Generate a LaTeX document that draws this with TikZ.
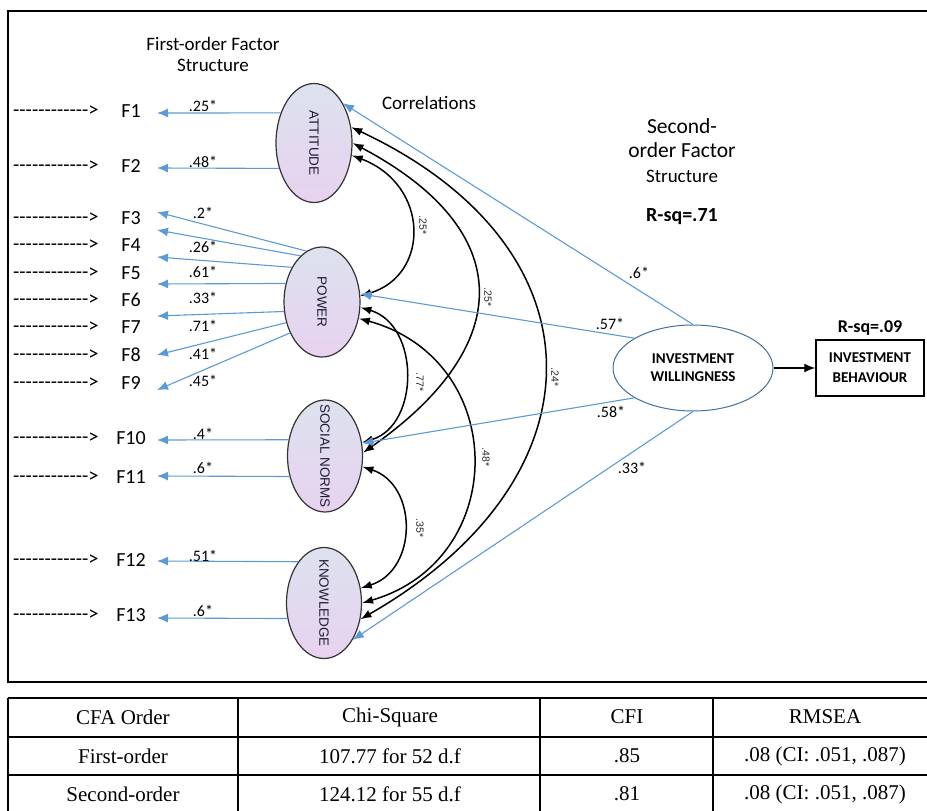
\documentclass[tikz,border=0pt]{standalone}
\usepackage{fontspec}
\setmainfont{Carlito}
\newfontfamily\arialfont{Liberation Sans}
\newfontfamily\timesfont{Liberation Serif}
\usetikzlibrary{shapes.geometric,arrows.meta}

\definecolor{loadblue}{HTML}{5B9BD5}
\definecolor{lvtop}{HTML}{DCE2EE}
\definecolor{lvbot}{HTML}{E8D2EF}
\definecolor{lvink}{HTML}{1E1C36}
\definecolor{iwline}{HTML}{41719C}
\newcommand{\fsz}[2]{\fontsize{#1}{#2}\selectfont}
\newcommand{\dashrow}{-{}-{}-{}-{}-{}-{}-{}-{}-{}-{}-{}-{}>}

\begin{document}
\begin{tikzpicture}[x=1pt,y=-1pt,
  latent/.style={ellipse,draw=black!80,line width=1.2pt,top color=lvtop,bottom color=lvbot,inner sep=0pt},
  lvtext/.style={rotate=-90,font=\arialfont\fsz{13.5}{15},text=lvink},
  dashtxt/.style={anchor=west,font=\fsz{20.5}{24},inner sep=0pt},
  ftxt/.style={font=\fsz{20}{24},inner sep=0pt},
  loadlab/.style={font=\fsz{16}{18},inner sep=0pt},
  load/.style={draw=loadblue,line width=1.1pt,-{Latex[length=11pt,width=9pt]}},
  corr/.style={line width=1.5pt,{Latex[length=11pt,width=8pt]}-{Latex[length=11pt,width=8pt]}},
  arclab/.style={rotate=-90,font=\arialfont\fsz{10.5}{12},text=black!85,inner sep=0pt},
  head/.style={font=\fsz{19}{22},inner sep=0pt},
  rsq/.style={font=\bfseries\fsz{20}{24},inner sep=0pt},
  tabline/.style={line width=1.6pt},
  tabtxt/.style={font=\timesfont\fsz{21}{24},inner sep=0pt}]
\useasboundingbox (0,0) rectangle (927,811);
\clip (0,0) rectangle (927,811);

% frame round the model
\draw [line width=1.6pt] (8,11) rectangle (960,682);

\node [head] (h1a) at (213,44) {First-order Factor};
\node [head] (h1b) at (213,65) {Structure};
\node [head] (corrl) at (429,103) {Correlations};
\node [head,font=\fsz{21.5}{24}] (h2a) at (682,126) {Second-};
\node [head,font=\fsz{21.5}{24}] (h2b) at (682,150) {order Factor};
\node [head] (h2c) at (682,176) {Structure};
\node [rsq] (rsq1) at (682,217) {R-sq=.71};
\node [rsq,font=\bfseries\fsz{18}{22}] (rsq2) at (870,328) {R-sq=.09};

% first-order factors
\node [latent,minimum width=76pt,minimum height=119pt] (att) at (314,143) {};
\node [latent,minimum width=76pt,minimum height=110pt] (pow) at (322,302) {};
\node [latent,minimum width=75pt,minimum height=112pt] (sn) at (325,456) {};
\node [latent,minimum width=75pt,minimum height=111pt] (kn) at (324,603) {};
\node [lvtext] (att-t) at (att) {ATTITUDE};
\node [lvtext] (pow-t) at (pow) {POWER};
\node [lvtext] (sn-t) at (sn) {SOCIAL NORMS};
\node [lvtext] (kn-t) at (kn) {KNOWLEDGE};

% items
\foreach \i/\fy/\ty in {1/111/113,2/166/168,3/218/212,4/245/230,5/273/257,6/300/284,7/327/316,8/355/355,9/383/390,10/438/440,11/477/476,12/560/561,13/615/618}{
  \node [dashtxt] (d\i) at (13,\fy) {\dashrow};
  \node [ftxt] (f\i) at (131,\fy) {F\i};
  \coordinate (t\i) at (157,\ty);
}

% loadings
\foreach \src/\i/\lab/\ly in {att.138/1/.25*/106,att.216/2/.48*/162,pow.107/3/.2*/213,pow.115/4/.26*/247,pow.131/5/.61*/272,pow.153/6/.33*/298,pow.194/7/.71*/326,pow.210/8/.41*/354,pow.224/9/.45*/381,sn.156/10/.4*/434,sn.210/11/.6*/468,kn.122/12/.51*/556,kn.203/13/.6*/611}{
  \draw [load] (\src) -- (t\i);
  \node [loadlab] (l\i) at (203,\ly) {\lab};
}

% correlations
\draw [corr] (att.-18) .. controls (430,185) and (430,275) .. (pow.9);
\draw [corr] (att.0) .. controls (517,230) and (517,345) .. (sn.5);
\draw [corr] (att.23) .. controls (607,247) and (607,478) .. (kn.-24);
\draw [corr] (pow.-8) .. controls (420,325) and (420,425) .. (sn.20);
\draw [corr] (pow.-24) .. controls (510,360) and (510,560) .. (kn.0);
\draw [corr] (sn.-16) .. controls (418,485) and (418,570) .. (kn.22);
\node [arclab] (r1) at (423,225) {.25*};
\node [arclab] (r2) at (488,297) {.25*};
\node [arclab] (r3) at (555,377) {.24*};
\node [arclab] (r4) at (420,382) {.77*};
\node [arclab] (r5) at (486,457) {.48*};
\node [arclab] (r6) at (420,528) {.35*};

% second-order factor
\node [ellipse,draw=iwline,line width=1pt,fill=white,minimum width=160pt,minimum height=86pt,align=center,font=\bfseries\fsz{15}{18}] (iw) at (693,368) {INVESTMENT\\WILLINGNESS};
\node [draw,line width=1.5pt,minimum width=108pt,minimum height=56pt,align=center,font=\bfseries\fsz{15}{20}] (ib) at (870,368) {INVESTMENT\\BEHAVIOUR};
\draw [line width=1.2pt,-{Latex[length=11pt,width=9pt]}] (iw.east) -- (ib.west);

\draw [load] (iw.north) -- (att.54); \node [loadlab] (s1) at (639,273) {.6*};
\draw [load] (iw.153) -- (pow.12); \node [loadlab] (s2) at (610,324) {.57*};
\draw [load] (iw.207) -- (sn.19); \node [loadlab] (s3) at (611,412) {.58*};
\draw [load] (iw.south) -- (kn.308); \node [loadlab] (s4) at (632,468) {.33*};

% fit table
\draw [tabline] (8,698) -- (960,698);
\draw [tabline] (8,737) -- (960,737);
\draw [tabline] (8,775) -- (960,775);
\draw [tabline] (8,698) -- (8,830);
\draw [tabline] (238,698) -- (238,830);
\draw [tabline] (540,698) -- (540,830);
\draw [tabline] (713,698) -- (713,830);
\node [tabtxt] (c11) at (123,717) {CFA Order};
\node [tabtxt] (c12) at (390,717) {Chi-Square};
\node [tabtxt] (c13) at (627,717) {CFI};
\node [tabtxt] (c14) at (825,717) {RMSEA};
\node [tabtxt] (c21) at (123,756) {First-order};
\node [tabtxt] (c22) at (390,756) {107.77 for 52 d.f};
\node [tabtxt] (c23) at (627,756) {.85};
\node [tabtxt] (c24) at (825,756) {.08 (CI: .051, .087)};
\node [tabtxt] (c31) at (123,794) {Second-order};
\node [tabtxt] (c32) at (390,794) {124.12 for 55 d.f};
\node [tabtxt] (c33) at (627,794) {.81};
\node [tabtxt] (c34) at (825,794) {.08 (CI: .051, .087)};
\end{tikzpicture}
\end{document}
